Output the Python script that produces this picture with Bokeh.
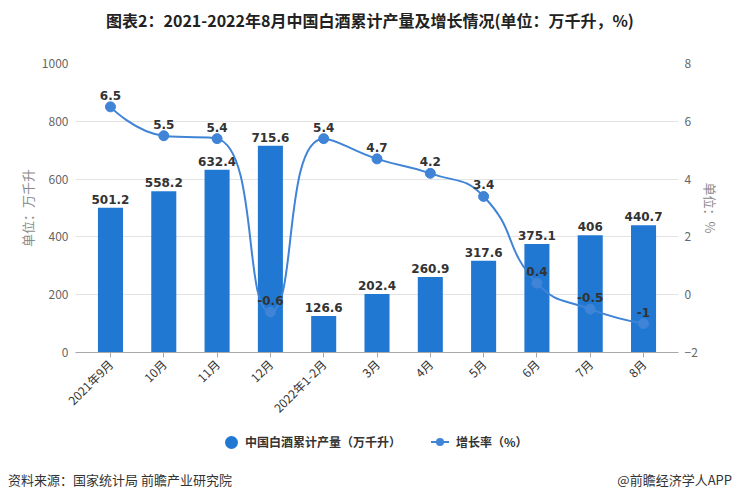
import math
from bokeh.plotting import figure
from bokeh.layouts import column
from bokeh.models import Range1d, LinearAxis, FixedTicker, Div
from bokeh.embed import file_html
from bokeh.resources import INLINE
from bokeh.core.properties import value

# ---------------- data ----------------
categories = ["2021年9月", "10月", "11月", "12月", "2022年1-2月", "3月", "4月", "5月", "6月", "7月", "8月"]
production = [501.2, 558.2, 632.4, 715.6, 126.6, 202.4, 260.9, 317.6, 375.1, 406, 440.7]
growth = [6.5, 5.5, 5.4, -0.6, 5.4, 4.7, 4.2, 3.4, 0.4, -0.5, -1]
left_ticks = [0, 200, 400, 600, 800, 1000]
right_ticks = [-2, 0, 2, 4, 6, 8]

title_text = "图表2：2021-2022年8月中国白酒累计产量及增长情况(单位：万千升，%)"
source_text = "资料来源：国家统计局 前瞻产业研究院"
brand_text = "@前瞻经济学人APP"
bar_name = "中国白酒累计产量（万千升）"
line_name = "增长率（%）"

# ---------------- layout ----------------
W = 724
TITLE_H = 24
LEG_H = 30
FOOT_H = 27
FL, FR, FT = 67, 670, 31
FRAME_H = 289
BOTTOM = 75
H = FT + FRAME_H + BOTTOM
PAD = 0.656
n = len(categories)
X0, X1 = -PAD, n - 1 + PAD
L0, L1 = left_ticks[0], left_ticks[-1]
R0, R1 = right_ticks[0], right_ticks[-1]
pxx = (FR - FL) / (X1 - X0)
pxy_r = FRAME_H / (R1 - R0)

BAR = "#2178d2"
LINE = "#3f84d6"
CJK = "Noto Sans CJK SC"


def fmt(v):
    return f"{v:g}"


p = figure(width=W, height=H, x_range=Range1d(X0, X1), y_range=Range1d(L0, L1),
           output_backend="svg", toolbar_location=None, title=None,
           min_border_left=FL, min_border_right=W - FR,
           min_border_top=FT, min_border_bottom=BOTTOM, margin=0)
p.outline_line_color = None
p.background_fill_color = "white"
p.border_fill_color = "white"
p.xgrid.visible = False
p.ygrid.grid_line_color = "#e3e3e3"
p.ygrid.grid_line_width = 1
p.extra_y_ranges = {"r": Range1d(R0, R1)}

# x axis
xa = p.xaxis[0]
xa.ticker = FixedTicker(ticks=list(range(n)))
xa.major_label_overrides = {i: c for i, c in enumerate(categories)}
xa.major_label_orientation = math.pi / 4
xa.axis_line_color = "#a8a8a8"
xa.major_tick_line_color = "#a8a8a8"
xa.major_tick_out = 5
xa.major_tick_in = 0
xa.minor_tick_line_color = None
xa.major_label_text_font = CJK
xa.major_label_text_font_size = "12px"
xa.major_label_text_color = "#333333"
xa.major_label_standoff = 4

# y axes
ya = p.yaxis[0]
ya.ticker = FixedTicker(ticks=left_ticks)
p.ygrid.ticker = FixedTicker(ticks=left_ticks)
ya.axis_label = "单位：万千升"
ra = LinearAxis(y_range_name="r", ticker=FixedTicker(ticks=right_ticks), axis_label="单位：%")
p.add_layout(ra, "right")

for ax in (ya, ra):
    ax.axis_line_color = None
    ax.major_tick_line_color = None
    ax.major_tick_out = 0
    ax.major_tick_in = 0
    ax.minor_tick_line_color = None
    ax.minor_tick_out = 0
    ax.minor_tick_in = 0
    ax.major_label_text_font = CJK
    ax.major_label_text_font_size = "12px"
    ax.major_label_text_color = "#666666"
    ax.axis_label_text_font = CJK
    ax.axis_label_text_font_size = "13px"
    ax.axis_label_text_font_style = "normal"
    ax.axis_label_text_color = "#8a8a8a"
ya.major_label_standoff = 7
ra.major_label_standoff = 6
ya.axis_label_standoff = 2
ra.axis_label_standoff = 0

# bars
xs = list(range(n))
p.vbar(x=xs, top=production, width=0.47, fill_color=BAR, line_color=None)
p.text(x=xs, y=production, text=[fmt(v) for v in production], text_align="center",
       text_baseline="bottom", y_offset=-4, text_font=value("DejaVu Sans"),
       text_font_style="bold", text_font_size="12px", text_color="#333333")

# smooth line (echarts-style bezier, smooth = 0.5) computed from the data
pts = [(x * pxx, g * pxy_r) for x, g in zip(xs, growth)]
smooth = 0.5
segs = {"x0": [], "y0": [], "x1": [], "y1": [], "cx0": [], "cy0": [], "cx1": [], "cy1": []}
cp0 = pts[0]
for k in range(1, n):
    x, y = pts[k]
    px_, py_ = pts[k - 1]
    if k == n - 1:
        c1 = (x, y)
        ncp = (x, y)
    else:
        nx_, ny_ = pts[k + 1]
        vx, vy = nx_ - px_, ny_ - py_
        lp = math.hypot(x - px_, y - py_)
        ln = math.hypot(nx_ - x, ny_ - y)
        ratio = ln / (ln + lp)
        ncx = x + vx * smooth * ratio
        ncy = y + vy * smooth * ratio
        ncx = max(min(ncx, max(nx_, x)), min(nx_, x))
        ncy = max(min(ncy, max(ny_, y)), min(ny_, y))
        vx, vy = ncx - x, ncy - y
        c1x = x - vx * lp / ln
        c1y = y - vy * lp / ln
        c1x = max(min(c1x, max(px_, x)), min(px_, x))
        c1y = max(min(c1y, max(py_, y)), min(py_, y))
        vx, vy = x - c1x, y - c1y
        ncp = (x + vx * ln / lp, y + vy * ln / lp)
        c1 = (c1x, c1y)
    segs["x0"].append(px_ / pxx)
    segs["y0"].append(py_ / pxy_r)
    segs["x1"].append(x / pxx)
    segs["y1"].append(y / pxy_r)
    segs["cx0"].append(cp0[0] / pxx)
    segs["cy0"].append(cp0[1] / pxy_r)
    segs["cx1"].append(c1[0] / pxx)
    segs["cy1"].append(c1[1] / pxy_r)
    cp0 = ncp

p.bezier(y_range_name="r", line_color=LINE, line_width=2, **segs)
p.scatter(x=xs, y=growth, y_range_name="r", size=10, fill_color=LINE, line_color=LINE)
p.text(x=xs, y=growth, y_range_name="r", text=[fmt(v) for v in growth], text_align="center",
       text_baseline="bottom", y_offset=-7, text_font=value("DejaVu Sans"),
       text_font_style="bold", text_font_size="12px", text_color="#333333")

# ---------------- html title / legend / footer ----------------
FONT_CSS = "font-family:'Noto Sans CJK SC',sans-serif;"
title_div = Div(
    text=(f'<div style="width:{W}px;height:{TITLE_H}px;line-height:{TITLE_H}px;text-align:center;'
          f'{FONT_CSS}font-size:16px;font-weight:bold;color:#222222;white-space:nowrap;">'
          f'{title_text}</div>'),
    width=W, height=TITLE_H, margin=0)

legend_div = Div(
    text=(f'<div style="width:{W}px;height:{LEG_H}px;display:flex;align-items:center;'
          f'padding-left:217px;box-sizing:border-box;{FONT_CSS}font-size:12px;font-weight:bold;'
          f'color:#333333;white-space:nowrap;">'
          f'<span style="display:inline-block;width:13px;height:13px;border-radius:50%;'
          f'background:{BAR};margin-right:7px;"></span><span>{bar_name}</span>'
          f'<span style="display:inline-block;position:relative;width:18px;height:2px;'
          f'background:{LINE};margin-left:30px;margin-right:7px;">'
          f'<span style="position:absolute;left:5px;top:-3px;width:8px;height:8px;'
          f'border-radius:50%;background:{LINE};"></span></span><span>{line_name}</span></div>'),
    width=W, height=LEG_H, margin=0)

foot_div = Div(
    text=(f'<div style="width:{W}px;height:{FOOT_H}px;padding-top:13px;box-sizing:border-box;'
          f'display:flex;justify-content:space-between;line-height:20px;{FONT_CSS}'
          f'font-size:13px;color:#333333;white-space:nowrap;">'
          f'<span>{source_text}</span><span>{brand_text}</span></div>'),
    width=W, height=FOOT_H, margin=0)

layout = column(title_div, p, legend_div, foot_div, spacing=0, margin=(8, 0, 0, 8))
open("out.html", "w").write(file_html(layout, INLINE))
